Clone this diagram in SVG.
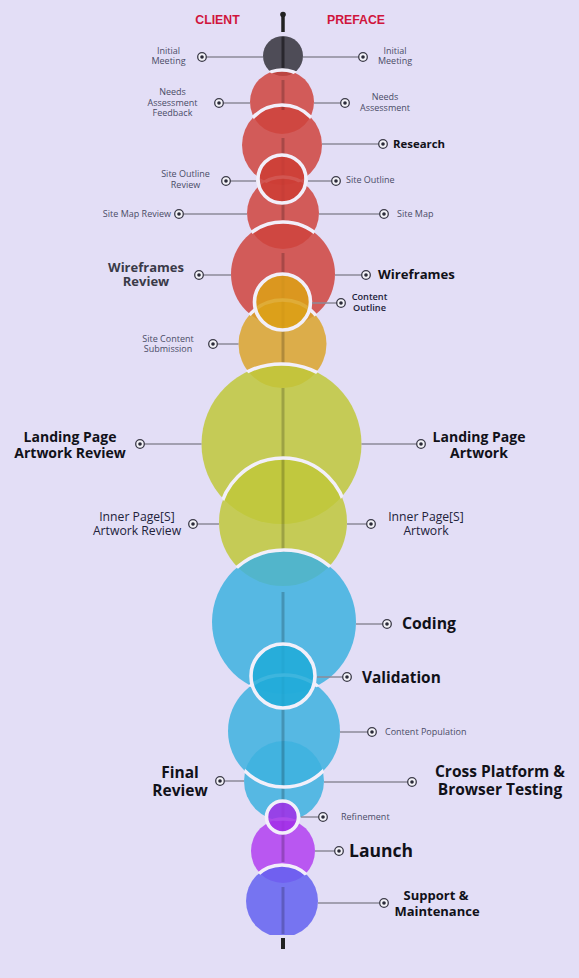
<svg xmlns="http://www.w3.org/2000/svg" width="579" height="978" viewBox="0 0 579 978">
<style>
text{font-family:"Open Sans","Noto Sans",sans-serif;}
.hd{font-family:"Liberation Sans",Arial,sans-serif;font-weight:700;font-size:12.3px;fill:#d0143c;}
.sm{font-size:9px;fill:#4a4c66;}
.md{font-size:12.2px;fill:#22223a;}
.bk{font-weight:700;fill:#111119;}
.red{fill:#cf443d;fill-opacity:.85;}
.org{fill:#dba42c;fill-opacity:.85;}
.grn{fill:#bfc83a;fill-opacity:.85;}
.blu{fill:#3db2df;fill-opacity:.85;}
.pur{fill:#b23ff0;fill-opacity:.85;}
.vio{fill:#6361f0;fill-opacity:.85;}
.ring{stroke:#f2effa;stroke-width:3.6;fill-opacity:.86;}
.arc{fill:none;stroke:#f2effa;stroke-width:3.5;}
.axis line{stroke:#000;stroke-opacity:.2;stroke-width:3;}
#connectors line{stroke:#8d8a98;stroke-width:1.5;}
.dot{fill:#f4f3f8;stroke:#3b3a48;stroke-width:1.3;}
.pip{fill:#2a2a38;}
</style>
<defs>
<clipPath id="k1"><circle cx="283" cy="56" r="21"/></clipPath>
<clipPath id="k2"><circle cx="282" cy="102" r="33"/></clipPath>
<clipPath id="k3"><circle cx="282" cy="145" r="41"/></clipPath>
<clipPath id="k4"><circle cx="283" cy="213" r="37"/></clipPath>
<clipPath id="k5"><circle cx="283" cy="274" r="53"/></clipPath>
<clipPath id="k6"><circle cx="282.5" cy="344" r="45"/></clipPath>
<clipPath id="k7"><circle cx="281.5" cy="444" r="81"/></clipPath>
<clipPath id="k8"><circle cx="283" cy="522" r="65"/></clipPath>
<clipPath id="k9"><circle cx="284" cy="622" r="73"/></clipPath>
<clipPath id="k11"><circle cx="284" cy="781" r="41"/></clipPath>
<clipPath id="k12"><circle cx="283" cy="851" r="33"/></clipPath>
<clipPath id="kb"><rect x="0" y="0" width="579" height="935"/></clipPath>
</defs>
<rect width="579" height="978" fill="#e3def6"/>

<text class="hd" x="217.5" y="24" text-anchor="middle">CLIENT</text>
<text class="hd" x="356" y="24" text-anchor="middle">PREFACE</text>

<line x1="283" y1="15" x2="283" y2="32" stroke="#222" stroke-width="3.5"/>
<circle cx="283" cy="14.5" r="2.8" fill="#222"/>
<rect x="281" y="938" width="4" height="11" fill="#222"/>

<g id="n-initial-meeting">
<circle cx="283" cy="56" r="20" fill="#46434e" fill-opacity=".95"/>
<text class="sm" x="168.5" y="54" text-anchor="middle">Initial</text>
<text class="sm" x="168.5" y="64" text-anchor="middle">Meeting</text>
<text class="sm" x="395" y="54" text-anchor="middle">Initial</text>
<text class="sm" x="395" y="64" text-anchor="middle">Meeting</text>
</g>
<g id="n-needs-assessment">
<circle class="red" cx="282" cy="102" r="32"/>
<text class="sm" x="172.5" y="95" text-anchor="middle">Needs</text>
<text class="sm" x="172.5" y="105.5" text-anchor="middle">Assessment</text>
<text class="sm" x="172.5" y="116" text-anchor="middle">Feedback</text>
<text class="sm" x="385" y="100" text-anchor="middle">Needs</text>
<text class="sm" x="385" y="110.5" text-anchor="middle">Assessment</text>
</g>
<g id="n-research">
<circle class="red" cx="282" cy="145" r="40"/>
<text class="bk" x="393" y="148" font-size="11.4">Research</text>
</g>
<g id="n-site-map">
<circle class="red" cx="283" cy="213" r="36"/>
<text class="sm" x="171" y="217" text-anchor="end">Site Map Review</text>
<text class="sm" x="397" y="217">Site Map</text>
</g>
<g id="n-wireframes">
<circle class="red" cx="283" cy="274" r="52"/>
<text class="bk" x="146" y="272" text-anchor="middle" font-size="13" style="fill:#3a3a48">Wireframes</text>
<text class="bk" x="146" y="286" text-anchor="middle" font-size="13" style="fill:#3a3a48">Review</text>
<text class="bk" x="378" y="279" font-size="13.2">Wireframes</text>
</g>
<g id="n-site-content">
<circle class="org" cx="282.5" cy="344" r="44"/>
<text class="sm" x="168" y="342" text-anchor="middle">Site Content</text>
<text class="sm" x="168" y="352" text-anchor="middle">Submission</text>
</g>
<g id="n-landing-page">
<circle class="grn" cx="281.5" cy="444" r="80"/>
<text class="bk" x="70" y="442" text-anchor="middle" font-size="14">Landing Page</text>
<text class="bk" x="70" y="457.5" text-anchor="middle" font-size="14">Artwork Review</text>
<text class="bk" x="479" y="442" text-anchor="middle" font-size="14">Landing Page</text>
<text class="bk" x="479" y="457.5" text-anchor="middle" font-size="14">Artwork</text>
</g>
<g id="n-inner-pages">
<circle class="grn" cx="283" cy="522" r="64"/>
<text class="md" x="137" y="521" text-anchor="middle">Inner Page[S]</text>
<text class="md" x="137" y="534.5" text-anchor="middle">Artwork Review</text>
<text class="md" x="426" y="521" text-anchor="middle">Inner Page[S]</text>
<text class="md" x="426" y="534.5" text-anchor="middle">Artwork</text>
</g>
<g id="n-coding">
<circle class="blu" cx="284" cy="622" r="72"/>
<text class="bk" x="402" y="629" font-size="15.8">Coding</text>
</g>
<g id="n-content-population">
<circle class="blu" cx="284" cy="731" r="56"/>
<text class="sm" x="385" y="735" font-size="9.8">Content Population</text>
</g>
<g id="n-final-review">
<circle class="blu" cx="284" cy="781" r="40"/>
<text class="bk" x="180" y="778" text-anchor="middle" font-size="15.5">Final</text>
<text class="bk" x="180" y="796" text-anchor="middle" font-size="15.5">Review</text>
<text class="bk" x="500" y="777" text-anchor="middle" font-size="15.5">Cross Platform &amp;</text>
<text class="bk" x="500" y="794.5" text-anchor="middle" font-size="15.5">Browser Testing</text>
</g>
<g id="n-launch">
<circle class="pur" cx="283" cy="851" r="32"/>
<text class="bk" x="349" y="857" font-size="17.5">Launch</text>
</g>
<g id="n-support">
<circle class="vio" cx="282" cy="901" r="36" clip-path="url(#kb)"/>
<text class="bk" x="436" y="900" text-anchor="middle" font-size="13">Support &amp;</text>
<text class="bk" x="437" y="915.5" text-anchor="middle" font-size="13">Maintenance</text>
</g>

<g class="axis">
<line x1="283" y1="37" x2="283" y2="68" style="stroke:#29272e;stroke-opacity:1"/>
<line x1="283" y1="80" x2="283" y2="110"/>
<line x1="283" y1="138" x2="283" y2="220"/>
<line x1="283" y1="253" x2="283" y2="364"/>
<line x1="283" y1="388" x2="283" y2="552"/>
<line x1="283" y1="592" x2="283" y2="862"/>
<line x1="283" y1="887" x2="283" y2="934"/>
</g>

<g id="overlap-arcs">
<circle class="arc" cx="282" cy="102" r="32" clip-path="url(#k1)"/>
<circle class="arc" cx="282" cy="145" r="40" clip-path="url(#k2)"/>
<circle class="arc" cx="283" cy="213" r="36" clip-path="url(#k3)"/>
<circle class="arc" cx="283" cy="274" r="52" clip-path="url(#k4)"/>
<circle class="arc" cx="282.5" cy="344" r="44" clip-path="url(#k5)"/>
<circle class="arc" cx="281.5" cy="444" r="80" clip-path="url(#k6)"/>
<circle class="arc" cx="283" cy="522" r="64" clip-path="url(#k7)"/>
<circle class="arc" cx="284" cy="622" r="72" clip-path="url(#k8)"/>
<circle class="arc" cx="284" cy="731" r="56" clip-path="url(#k9)"/>
<circle class="arc" cx="284" cy="731" r="56" clip-path="url(#k11)"/>
<circle class="arc" cx="283" cy="851" r="32" clip-path="url(#k11)"/>
<circle class="arc" cx="282" cy="901" r="36" clip-path="url(#k12)"/>
</g>

<g id="n-site-outline">
<circle class="ring" cx="282" cy="179" r="24" fill="#cd3c34"/>
<text class="sm" x="185.5" y="177" text-anchor="middle">Site Outline</text>
<text class="sm" x="185.5" y="188" text-anchor="middle">Review</text>
<text class="sm" x="346" y="183">Site Outline</text>
</g>
<g id="n-content-outline">
<circle class="ring" cx="282.5" cy="302" r="28" fill="#dca116"/>
<text x="369.5" y="300" text-anchor="middle" font-size="9.2" font-weight="600" fill="#1e1e3c">Content</text>
<text x="369.5" y="311" text-anchor="middle" font-size="9.2" font-weight="600" fill="#1e1e3c">Outline</text>
</g>
<g id="n-validation">
<circle class="ring" cx="283" cy="676" r="32" fill="#1fabd9"/>
<text class="bk" x="362" y="683" font-size="15.4">Validation</text>
</g>
<g id="n-refinement">
<circle class="ring" cx="282.5" cy="817" r="16" fill="#a22ee8"/>
<text class="sm" x="341" y="820">Refinement</text>
</g>

<g id="connectors">
<line x1="202" y1="57" x2="263" y2="57"/>
<line x1="303" y1="57" x2="363" y2="57"/>
<line x1="219" y1="103" x2="250" y2="103"/>
<line x1="314" y1="103" x2="345" y2="103"/>
<line x1="322" y1="144" x2="383" y2="144"/>
<line x1="226" y1="181" x2="256" y2="181"/>
<line x1="308" y1="181" x2="336" y2="181"/>
<line x1="179" y1="214" x2="247" y2="214"/>
<line x1="319" y1="214" x2="384" y2="214"/>
<line x1="199" y1="275" x2="231" y2="275"/>
<line x1="335" y1="275" x2="366" y2="275"/>
<line x1="312" y1="303" x2="341" y2="303"/>
<line x1="213" y1="344" x2="238.5" y2="344"/>
<line x1="140" y1="444" x2="201.5" y2="444"/>
<line x1="361.5" y1="444" x2="421" y2="444"/>
<line x1="193" y1="524" x2="219" y2="524"/>
<line x1="347" y1="524" x2="371" y2="524"/>
<line x1="356" y1="624" x2="387" y2="624"/>
<line x1="317" y1="677" x2="347" y2="677"/>
<line x1="340" y1="732" x2="372" y2="732"/>
<line x1="220" y1="781" x2="244" y2="781"/>
<line x1="324" y1="782" x2="412" y2="782"/>
<line x1="301" y1="817" x2="323" y2="817"/>
<line x1="315" y1="851" x2="339" y2="851"/>
<line x1="318" y1="903" x2="384" y2="903"/>
<g class="dots">
<circle class="dot" cx="202" cy="57" r="4.3"/><circle class="pip" cx="202" cy="57" r="1.8"/>
<circle class="dot" cx="363" cy="57" r="4.3"/><circle class="pip" cx="363" cy="57" r="1.8"/>
<circle class="dot" cx="219" cy="103" r="4.3"/><circle class="pip" cx="219" cy="103" r="1.8"/>
<circle class="dot" cx="345" cy="103" r="4.3"/><circle class="pip" cx="345" cy="103" r="1.8"/>
<circle class="dot" cx="383" cy="144" r="4.3"/><circle class="pip" cx="383" cy="144" r="1.8"/>
<circle class="dot" cx="226" cy="181" r="4.3"/><circle class="pip" cx="226" cy="181" r="1.8"/>
<circle class="dot" cx="336" cy="181" r="4.3"/><circle class="pip" cx="336" cy="181" r="1.8"/>
<circle class="dot" cx="179" cy="214" r="4.3"/><circle class="pip" cx="179" cy="214" r="1.8"/>
<circle class="dot" cx="384" cy="214" r="4.3"/><circle class="pip" cx="384" cy="214" r="1.8"/>
<circle class="dot" cx="199" cy="275" r="4.3"/><circle class="pip" cx="199" cy="275" r="1.8"/>
<circle class="dot" cx="366" cy="275" r="4.3"/><circle class="pip" cx="366" cy="275" r="1.8"/>
<circle class="dot" cx="341" cy="303" r="4.3"/><circle class="pip" cx="341" cy="303" r="1.8"/>
<circle class="dot" cx="213" cy="344" r="4.3"/><circle class="pip" cx="213" cy="344" r="1.8"/>
<circle class="dot" cx="140" cy="444" r="4.3"/><circle class="pip" cx="140" cy="444" r="1.8"/>
<circle class="dot" cx="421" cy="444" r="4.3"/><circle class="pip" cx="421" cy="444" r="1.8"/>
<circle class="dot" cx="193" cy="524" r="4.3"/><circle class="pip" cx="193" cy="524" r="1.8"/>
<circle class="dot" cx="371" cy="524" r="4.3"/><circle class="pip" cx="371" cy="524" r="1.8"/>
<circle class="dot" cx="387" cy="624" r="4.3"/><circle class="pip" cx="387" cy="624" r="1.8"/>
<circle class="dot" cx="347" cy="677" r="4.3"/><circle class="pip" cx="347" cy="677" r="1.8"/>
<circle class="dot" cx="372" cy="732" r="4.3"/><circle class="pip" cx="372" cy="732" r="1.8"/>
<circle class="dot" cx="220" cy="781" r="4.3"/><circle class="pip" cx="220" cy="781" r="1.8"/>
<circle class="dot" cx="412" cy="782" r="4.3"/><circle class="pip" cx="412" cy="782" r="1.8"/>
<circle class="dot" cx="323" cy="817" r="4.3"/><circle class="pip" cx="323" cy="817" r="1.8"/>
<circle class="dot" cx="339" cy="851" r="4.3"/><circle class="pip" cx="339" cy="851" r="1.8"/>
<circle class="dot" cx="384" cy="903" r="4.3"/><circle class="pip" cx="384" cy="903" r="1.8"/>
</g>
</g>
</svg>
